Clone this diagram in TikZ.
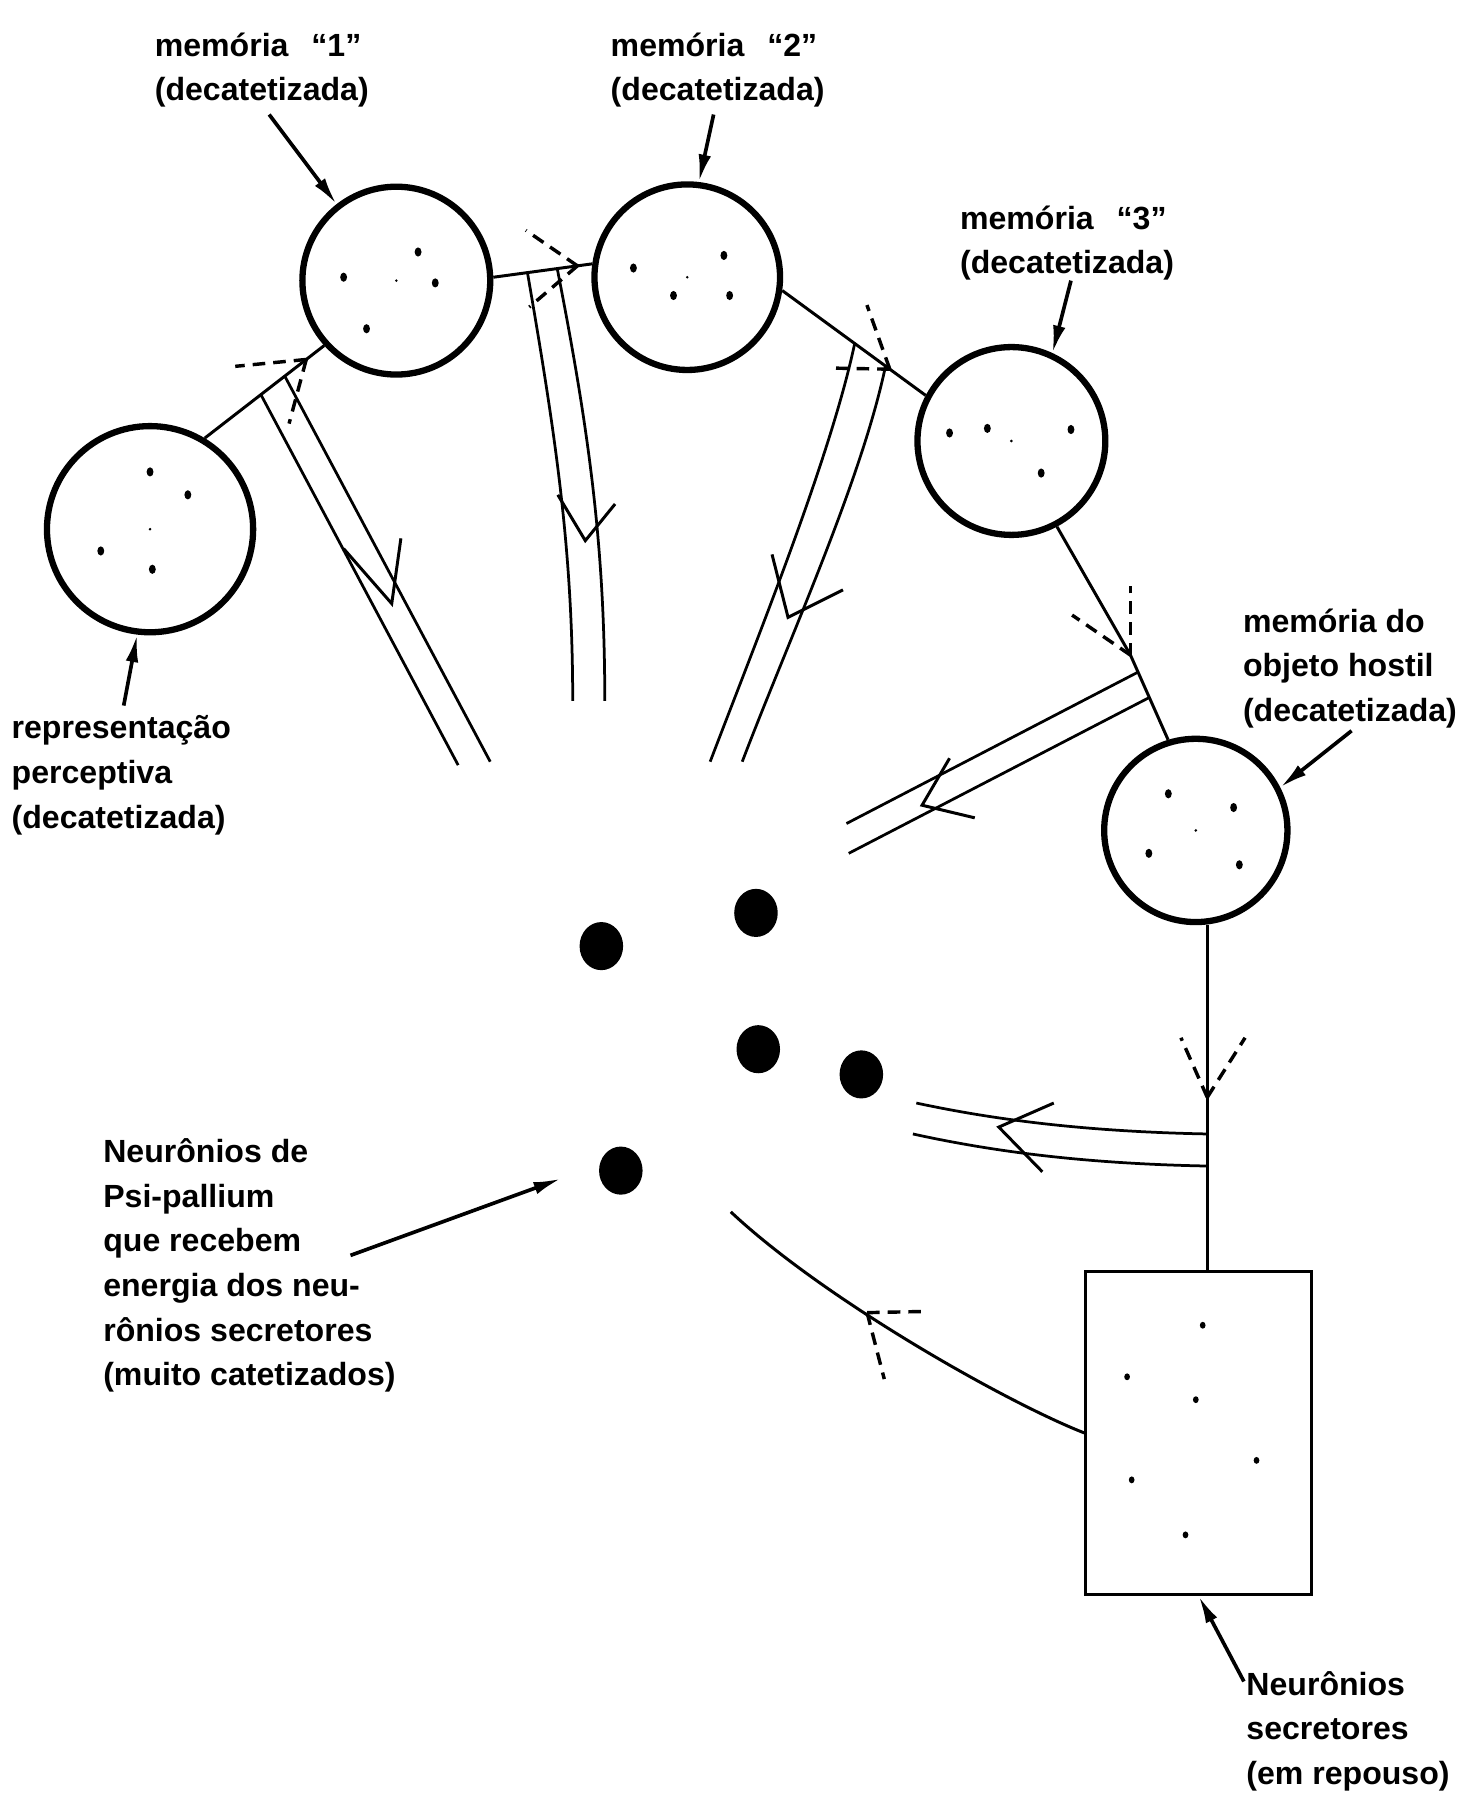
\documentclass[tikz,border=0pt]{standalone}
\usepackage{fontspec}
\setmainfont{Liberation Sans}
\usetikzlibrary{arrows.meta,calc,shapes.geometric}
\begin{document}
\begin{tikzpicture}[x=1pt,y=-1pt,
  cell/.style={circle,draw,line width=5.5pt,minimum size=#1,inner sep=0pt},
  speck/.style={ellipse,fill,inner sep=0pt,minimum width=6pt,minimum height=8pt},
  tiny/.style={circle,fill,inner sep=0pt,minimum size=2.5pt},
  psi/.style={ellipse,fill,inner sep=0pt,minimum width=38pt,minimum height=42pt},
  conn/.style={line width=2.6pt},
  barb/.style={line width=3pt,dash pattern=on 11pt off 7pt},
  chan/.style={line width=2.4pt},
  vee/.style={line width=2.6pt},
  lab/.style={line width=3.2pt,-{Latex[length=24pt,width=11pt]}},
  txt/.style={font=\fontsize{28}{39}\selectfont\bfseries,align=left,anchor=base west,inner sep=0pt},
]
\fill[white] (0,0) rectangle (1283,1568);
\useasboundingbox (0,0) rectangle (1283,1568);

% ---- cells (circles) ----
\node[cell=180pt] (c0) at (131,462) {};
\node[cell=164pt] (c1) at (346,245) {};
\node[cell=162pt] (c2) at (600,242) {};
\node[cell=164pt] (c3) at (883,385) {};
\node[cell=160pt] (c4) at (1044,725) {};

% specks inside circles
\foreach \p in {(131,412),(164,432),(88,481),(133,497),
                (365,220),(380,247),(300,242),(320,287),
                (553,234),(632,223),(588,258),(637,258),
                (829,378),(862,374),(935,375),(909,413),
                (1020,693),(1077,705),(1003,745),(1082,755)}
  \node[speck] at \p {};
\foreach \c in {c0,c1,c2,c3,c4} \node[tiny] at (\c) {};

% ---- secretory neurons box ----
\node[draw,line width=2.8pt,minimum width=197pt,minimum height=282pt,inner sep=0pt] (rect) at (1046.5,1251) {};
\foreach \p in {(1050,1157),(984,1202),(1044,1222),(1097,1275),(988,1292),(1035,1340)}
  \node[speck,minimum width=5pt,minimum height=6pt] at \p {};

% ---- psi-pallium neurons ----
\node[psi] (p1) at (525,826) {};
\node[psi] (p2) at (660,797) {};
\node[psi] (p3) at (662,916) {};
\node[psi] (p4) at (752,938) {};
\node[psi] (p5) at (542,1022) {};

% ---- main pathway connectors ----
% 0 -> 1
\draw[conn] (c0.59) -- (c1.222);
\coordinate (T1) at ($(c0.59)!0.85!(c1.222)$);
\draw[barb] (T1) -- ++(-62,6);
\draw[barb] (T1) -- ++(-15,56);
% 1 -> 2
\draw[conn] (c1.2) -- (c2.172);
\coordinate (T2) at ($(c1.2)!0.85!(c2.172)$);
\draw[barb] (T2) -- ++(-45,-31);
\draw[barb] (T2) -- ++(-42,36);
% 2 -> 3
\draw[conn] (c2.352) -- (c3.152);
\coordinate (T3) at ($(c2.352)!0.75!(c3.152)$);
\draw[barb] (T3) -- ++(-52,-1);
\draw[barb] (T3) -- ++(-20,-56);
% 3 -> 4
\coordinate (T4) at (987,572);
\draw[conn] (c3.298) -- (T4) -- (c4.107);
\draw[barb] (T4) -- ++(0,-60);
\draw[barb] (T4) -- ++(-51,-35);
% 4 -> box
\coordinate (T5) at (1054,958);
\draw[conn] (T5 |- c4.south) -- (T5 |- rect.north);
\draw[barb] (T5) -- ++(-23,-52);
\draw[barb] (T5) -- ++(33,-52);
% box -> psi
\coordinate (e6) at (638,1058);
\draw[conn] (rect.west) .. controls (880,1225) and (720,1135) .. (e6);
\coordinate (T6) at (757,1146);
\draw[barb] (T6) -- ++(48,-1);
\draw[barb] (T6) -- ++(15,58);

% ---- efferent double channels ----
% channel 1
\coordinate (a1) at ($(c0.59)!0.47!(c1.222)$);
\coordinate (b1) at ($(c0.59)!0.67!(c1.222)$);
\draw[chan] (a1) -- (400,668);
\draw[chan] (b1) -- (428,665);
\draw[vee] (300,479) -- (342,527) -- (350,470);
% channel 2
\coordinate (a2) at ($(c1.2)!0.345!(c2.172)$);
\coordinate (b2) at ($(c1.2)!0.646!(c2.172)$);
\draw[chan] (a2) .. controls (485,380) and (500,480) .. (500,612);
\draw[chan] (b2) .. controls (515,380) and (528,480) .. (528,612);
\draw[vee] (487,432) -- (511,472) -- (537,440);
% channel 3
\coordinate (a3) at ($(c2.352)!0.505!(c3.152)$);
\coordinate (b3) at ($(c2.352)!0.72!(c3.152)$);
\draw[chan] (a3) .. controls (725,400) and (660,560) .. (620,665);
\draw[chan] (b3) .. controls (752,420) and (688,560) .. (648,665);
\draw[vee] (674,484) -- (688,539) -- (736,515);
% channel 4
\coordinate (a4) at ($(T4)!0.2!(c4.107)$);
\coordinate (b4) at ($(T4)!0.5!(c4.107)$);
\draw[chan] (a4) -- (739,719);
\draw[chan] (b4) -- (741,745);
\draw[vee] (829,662) -- (805,703) -- (851,714);
% channel 5
\coordinate (a5) at (1054,990);
\coordinate (b5) at (1054,1018);
\draw[chan] (a5) .. controls (950,988) and (870,978) .. (800,963);
\draw[chan] (b5) .. controls (950,1016) and (870,1006) .. (797,990);
\draw[vee] (920,963) -- (872,984) -- (910,1023);

% ---- labels (anchor = baseline of last line) ----
\node[txt] (t1) at (135,88) {memória\hspace{20pt}“1”\\(decatetizada)};
\node[txt] (t2) at (533,88) {memória\hspace{20pt}“2”\\(decatetizada)};
\node[txt] (t3) at (838,239) {memória\hspace{20pt}“3”\\(decatetizada)};
\node[txt] (t4) at (1085,630) {memória do\\objeto hostil\\(decatetizada)};
\node[txt] (t0) at (10,723) {representação\\perceptiva\\(decatetizada)};
\node[txt] (tp) at (90,1210) {Neurônios de\\Psi-pallium\\que recebem\\energia dos neu-\\rônios secretores\\(muito catetizados)};
\node[txt] (ts) at (1088,1558) {Neurônios\\secretores\\(em repouso)};

% label arrows
\coordinate (q1) at (235,100);
\coordinate (q2) at (623,100);
\coordinate (q3) at (935,245);
\coordinate (q0) at (108,616);
\coordinate (q4) at (1180,638);
\coordinate (qp) at (306,1096);
\coordinate (qs) at (1086,1468);
\draw[lab] (q1) -- (c1.128);
\draw[lab] (q2) -- (c2.83);
\draw[lab] (q3) -- (c3.65);
\draw[lab] (q0) -- (c0.263);
\draw[lab] (q4) -- (c4.27);
\draw[lab] (qp) -- ($(p5.west)+(-33,7)$);
\draw[lab] (qs) -- (rect.south);
\end{tikzpicture}
\end{document}
